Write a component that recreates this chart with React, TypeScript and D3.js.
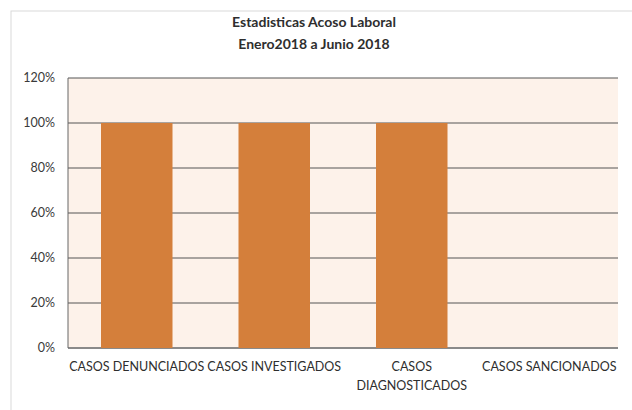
import React from "react";
import * as d3 from "d3";

const categories: string[][] = [
  ["CASOS DENUNCIADOS"],
  ["CASOS INVESTIGADOS"],
  ["CASOS", "DIAGNOSTICADOS"],
  ["CASOS SANCIONADOS"],
];
const values: number[] = [1, 1, 1, 0];
const yTicks: number[] = [0, 0.2, 0.4, 0.6, 0.8, 1.0, 1.2];
const titleLines: string[] = ["Estadisticas Acoso Laboral", "Enero2018 a Junio 2018"];

const W = 632;
const H = 410;
const margin = { left: 68, right: 14, top: 78, bottom: 62 };
const FONT = "Lato, 'Open Sans', sans-serif";

export default function App() {
  const x = d3
    .scaleBand<number>()
    .domain(categories.map((_, i) => i))
    .range([margin.left, W - margin.right])
    .paddingInner(0.48)
    .paddingOuter(0.24);
  const y = d3.scaleLinear().domain([0, 1.2]).range([H - margin.bottom, margin.top]);
  const fmt = d3.format(".0%");
  const band = (W - margin.right - margin.left) / categories.length;

  return (
    <svg
      width={W}
      height={H}
      style={{ position: "absolute", left: 0, top: 0, background: "#fff" }}
    >
      <rect x={11} y={11} width={W + 10} height={H + 10} fill="#fff" stroke="#d9d9d9" strokeWidth={1} />
      {titleLines.map((t, i) => (
        <text
          key={i}
          x={314}
          y={27 + i * 22}
          textAnchor="middle"
          fontFamily={FONT}
          fontWeight="bold"
          fontSize={14}
          fill="#2e2e2e"
        >
          {t}
        </text>
      ))}
      <rect
        x={margin.left}
        y={margin.top}
        width={W - margin.left - margin.right}
        height={H - margin.top - margin.bottom}
        fill="#fdf2ea"
      />
      {yTicks.map((t) => (
        <g key={t}>
          <line
            x1={margin.left}
            x2={W - margin.right}
            y1={y(t)}
            y2={y(t)}
            stroke={t === 0 ? "#8a8a8a" : "#555"}
            strokeWidth={t === 0 ? 2 : 1}
          />
          <text
            x={55}
            y={y(t)}
            dy="0.35em"
            textAnchor="end"
            fontFamily={FONT}
            fontSize={12.5}
            fill="#3a3a3a"
          >
            {fmt(t)}
          </text>
        </g>
      ))}
      <line
        x1={margin.left}
        x2={margin.left}
        y1={margin.top}
        y2={y(0)}
        stroke="#666"
        strokeWidth={1}
      />
      {values.map((v, i) =>
        v > 0 ? (
          <rect
            key={i}
            x={x(i)}
            y={y(v)}
            width={x.bandwidth()}
            height={y(0) - y(v)}
            fill="#d47f3b"
          />
        ) : null
      )}
      {categories.map((lines, i) => (
        <text
          key={i}
          x={margin.left + band * (i + 0.5)}
          y={y(0) + 23}
          textAnchor="middle"
          fontFamily={FONT}
          fontSize={12.5}
          fill="#2e2e2e"
        >
          {lines.map((l, j) => (
            <tspan key={j} x={margin.left + band * (i + 0.5)} dy={j === 0 ? 0 : 19}>
              {l}
            </tspan>
          ))}
        </text>
      ))}
    </svg>
  );
}
